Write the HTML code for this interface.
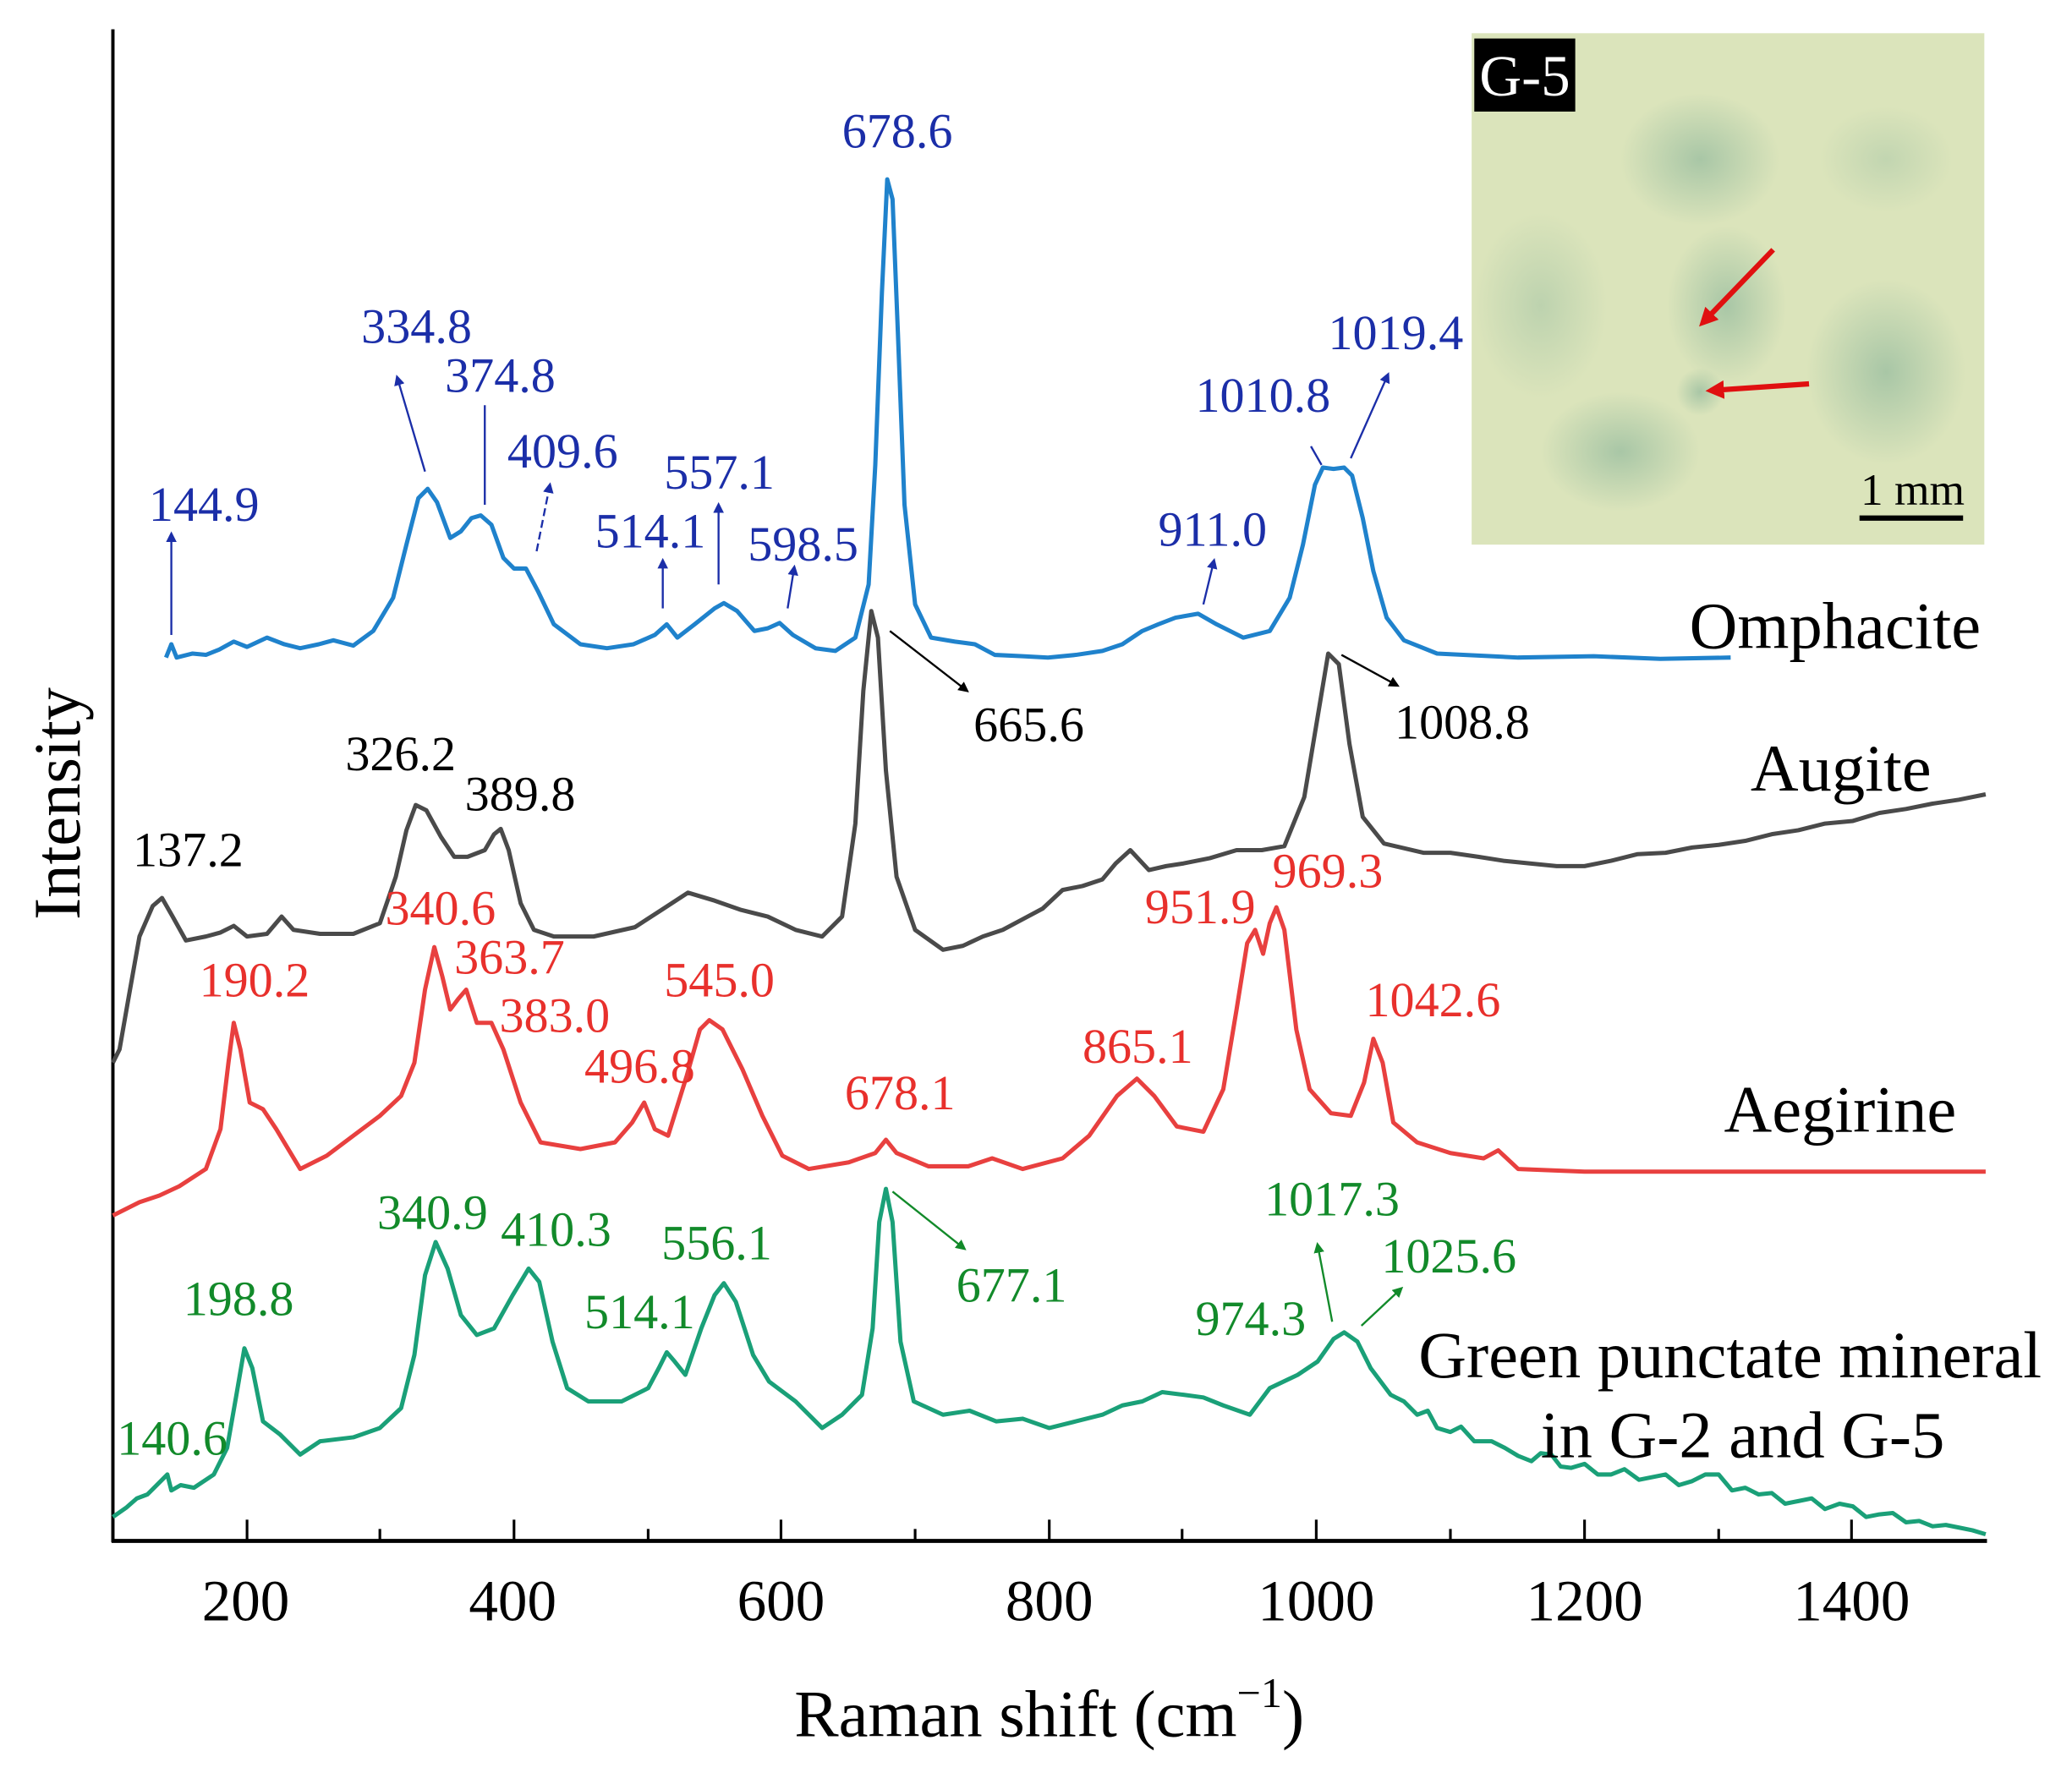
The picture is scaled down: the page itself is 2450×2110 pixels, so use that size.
<!DOCTYPE html>
<html><head><meta charset="utf-8"><style>
html,body{margin:0;padding:0;background:#fff;}
svg{display:block;}
text{font-family:"Liberation Serif",serif;}
</style></head><body>
<svg width="2450" height="2110" viewBox="0 0 1560 1343" preserveAspectRatio="none" xmlns="http://www.w3.org/2000/svg">
<defs>
<radialGradient id="b1"><stop offset="0" stop-color="#7fae95" stop-opacity="0.55"/><stop offset="1" stop-color="#7fae95" stop-opacity="0"/></radialGradient>
<marker id="ab" markerWidth="8" markerHeight="8" refX="6" refY="4" orient="auto" markerUnits="userSpaceOnUse"><path d="M0,0 L8,4 L0,8 z" fill="#1b2ea8"/></marker>
<marker id="ak" markerWidth="8" markerHeight="8" refX="6" refY="4" orient="auto" markerUnits="userSpaceOnUse"><path d="M0,0 L8,4 L0,8 z" fill="#000"/></marker>
<marker id="ag" markerWidth="8" markerHeight="8" refX="6" refY="4" orient="auto" markerUnits="userSpaceOnUse"><path d="M0,0 L8,4 L0,8 z" fill="#128a2a"/></marker>
<marker id="ar" markerWidth="14" markerHeight="14" refX="10" refY="7" orient="auto" markerUnits="userSpaceOnUse"><path d="M0,0 L14,7 L0,14 z" fill="#e01010"/></marker>
</defs>
<rect x="1108" y="25" width="386" height="385" fill="#dbe4bb"/>
<g>
<ellipse cx="1280" cy="120" rx="60" ry="50" fill="url(#b1)"/>
<ellipse cx="1300" cy="230" rx="45" ry="60" fill="url(#b1)"/>
<ellipse cx="1220" cy="340" rx="60" ry="45" fill="url(#b1)"/>
<ellipse cx="1420" cy="280" rx="60" ry="70" fill="url(#b1)"/>
<ellipse cx="1160" cy="230" rx="50" ry="70" fill="url(#b1)" opacity="0.6"/>
<ellipse cx="1420" cy="120" rx="50" ry="40" fill="url(#b1)" opacity="0.5"/>
<ellipse cx="1280" cy="295" rx="18" ry="18" fill="url(#b1)"/>
</g>
<rect x="1110" y="29" width="76" height="55" fill="#000"/>
<text x="1148" y="72" font-size="44" fill="#fff" text-anchor="middle">G-5</text>
<line x1="1335" y1="188" x2="1282" y2="243" stroke="#e01010" stroke-width="4" marker-end="url(#ar)"/>
<line x1="1362" y1="289" x2="1288" y2="294" stroke="#e01010" stroke-width="4" marker-end="url(#ar)"/>
<line x1="1400" y1="390" x2="1478" y2="390" stroke="#000" stroke-width="4"/>
<text x="1440" y="380" font-size="34" text-anchor="middle">1 mm</text>
<line x1="85" y1="22" x2="85" y2="1161" stroke="#000" stroke-width="2.5"/>
<line x1="84" y1="1160" x2="1496" y2="1160" stroke="#000" stroke-width="3"/>
<g stroke="#000" stroke-width="2">
<line x1="186" y1="1160" x2="186" y2="1144"/><line x1="286" y1="1160" x2="286" y2="1151"/>
<line x1="387" y1="1160" x2="387" y2="1144"/><line x1="488" y1="1160" x2="488" y2="1151"/>
<line x1="588" y1="1160" x2="588" y2="1144"/><line x1="689" y1="1160" x2="689" y2="1151"/>
<line x1="790" y1="1160" x2="790" y2="1144"/><line x1="890" y1="1160" x2="890" y2="1151"/>
<line x1="991" y1="1160" x2="991" y2="1144"/><line x1="1092" y1="1160" x2="1092" y2="1151"/>
<line x1="1193" y1="1160" x2="1193" y2="1144"/><line x1="1294" y1="1160" x2="1294" y2="1151"/>
<line x1="1394" y1="1160" x2="1394" y2="1144"/>
</g>
<g font-size="44" text-anchor="middle">
<text x="185" y="1220">200</text><text x="386" y="1220">400</text><text x="588" y="1220">600</text><text x="790" y="1220">800</text><text x="991" y="1220">1000</text><text x="1193" y="1220">1200</text><text x="1394" y="1220">1400</text>
</g>
<text x="790" y="1307" font-size="50" text-anchor="middle">Raman shift (cm<tspan font-size="32" dy="-22">−1</tspan><tspan dy="22">)</tspan></text>
<text transform="translate(60,605) rotate(-90)" font-size="50" text-anchor="middle">Intensity</text>
<g fill="none" stroke-width="3.2" stroke-linejoin="round">
<polyline stroke="#1f82cc" points="125,495 129,485 133,495 145,492 155,493 165,489 176,483 186,487 201,480 214,485 226,488 240,485 251,482 266,486 281,475 296,450 306,410 315,375 322,368 329,378 339,405 347,400 355,390 362,388 370,395 379,420 387,428 396,428 405,445 417,470 437,485 457,488 477,485 493,478 502,470 510,480 523,470 538,458 545,454 555,460 568,475 578,473 587,469 597,478 614,488 629,490 644,480 654,440 659,350 664,220 668,135 672,150 676,250 681,380 689,455 701,480 719,483 734,485 749,493 770,494 789,495 810,493 830,490 845,485 860,475 872,470 885,465 902,462 916,470 936,480 956,475 971,450 981,410 990,365 996,352 1004,353 1012,352 1018,358 1026,390 1034,430 1044,465 1057,482 1082,492 1143,495 1200,494 1250,496 1303,495"/>
<polyline stroke="#4a4a4a" points="85,800 90,790 97,750 105,705 115,682 122,676 130,690 140,708 155,705 166,702 176,697 186,705 201,703 212,690 221,700 241,703 266,703 286,695 298,660 306,625 313,606 321,610 332,630 342,645 352,645 365,640 372,628 377,624 383,640 392,680 402,700 417,705 447,705 478,698 498,685 518,672 538,678 558,685 578,690 599,700 619,705 634,690 644,620 650,520 656,460 661,480 667,580 675,660 689,700 710,715 725,712 740,705 755,700 770,692 785,684 800,670 815,667 830,662 840,650 851,640 865,655 878,652 891,650 911,646 931,640 950,640 967,637 982,600 992,540 1000,492 1008,500 1016,560 1026,615 1042,635 1072,642 1092,642 1113,645 1132,648 1152,650 1172,652 1193,652 1213,648 1233,643 1254,642 1274,638 1294,636 1314,633 1334,628 1354,625 1374,620 1395,618 1415,612 1435,609 1455,605 1475,602 1495,598"/>
<polyline stroke="#e8403f" points="85,915 105,905 120,900 135,893 155,880 166,850 172,800 176,770 181,790 188,830 198,835 208,850 226,880 246,870 266,855 286,840 302,825 312,800 320,745 327,713 333,735 339,760 345,752 351,745 359,770 370,770 379,790 392,830 407,860 437,865 463,860 476,845 485,830 493,850 503,855 517,810 527,775 534,768 544,775 559,805 574,840 589,870 609,880 639,875 659,868 667,858 675,868 699,878 729,878 747,872 770,880 800,872 820,855 841,825 856,812 869,825 886,848 906,852 921,820 931,760 939,710 945,700 951,718 956,695 961,683 967,700 976,775 986,820 1002,838 1017,840 1027,815 1034,782 1041,800 1049,845 1067,860 1092,868 1117,872 1128,866 1143,880 1193,882 1300,882 1400,882 1495,882"/>
<polyline stroke="#1aa078" points="85,1142 95,1135 103,1128 111,1125 121,1115 126,1110 129,1122 136,1118 146,1120 161,1110 171,1090 178,1050 184,1015 190,1030 198,1070 211,1080 226,1095 241,1085 266,1082 286,1075 302,1060 312,1020 320,960 328,935 337,955 347,990 359,1005 372,1000 386,975 398,955 406,965 416,1010 427,1045 443,1055 468,1055 488,1045 496,1030 502,1018 508,1025 516,1035 528,1000 538,975 545,966 554,980 567,1020 579,1040 599,1055 619,1075 634,1065 649,1050 657,1000 662,920 667,895 672,920 678,1010 688,1055 710,1065 730,1062 750,1070 770,1068 790,1075 810,1070 830,1065 845,1058 860,1055 875,1048 891,1050 906,1052 921,1058 941,1065 956,1045 977,1035 992,1025 1004,1008 1012,1003 1022,1010 1032,1030 1047,1050 1057,1055 1067,1065 1075,1062 1082,1075 1092,1078 1100,1074 1110,1085 1123,1085 1133,1090 1143,1096 1153,1100 1160,1094 1168,1095 1175,1104 1183,1105 1193,1102 1203,1110 1213,1110 1223,1106 1234,1114 1244,1112 1254,1110 1264,1118 1274,1115 1284,1110 1294,1110 1304,1122 1314,1120 1324,1125 1334,1124 1344,1132 1354,1130 1364,1128 1374,1136 1385,1132 1395,1134 1405,1142 1415,1140 1425,1139 1435,1146 1445,1145 1455,1149 1465,1148 1475,1150 1485,1152 1495,1155"/>
</g>
<g stroke-width="1.5">
<line x1="129" y1="478" x2="129" y2="402" stroke="#1b2ea8" marker-end="url(#ab)"/>
<line x1="320" y1="355" x2="299" y2="284" stroke="#1b2ea8" marker-end="url(#ab)"/>
<line x1="365" y1="380" x2="365" y2="305" stroke="#1b2ea8"/>
<line x1="404" y1="415" x2="414" y2="365" stroke="#1b2ea8" marker-end="url(#ab)" stroke-dasharray="6,3"/>
<line x1="499" y1="458" x2="499" y2="422" stroke="#1b2ea8" marker-end="url(#ab)"/>
<line x1="541" y1="440" x2="541" y2="380" stroke="#1b2ea8" marker-end="url(#ab)"/>
<line x1="593" y1="458" x2="598" y2="427" stroke="#1b2ea8" marker-end="url(#ab)"/>
<line x1="906" y1="455" x2="914" y2="422" stroke="#1b2ea8" marker-end="url(#ab)"/>
<line x1="995" y1="350" x2="987" y2="336" stroke="#1b2ea8"/>
<line x1="1017" y1="345" x2="1045" y2="282" stroke="#1b2ea8" marker-end="url(#ab)"/>
<line x1="670" y1="475" x2="728" y2="520" stroke="#000" marker-end="url(#ak)"/>
<line x1="1010" y1="493" x2="1052" y2="516" stroke="#000" marker-end="url(#ak)"/>
<line x1="672" y1="897" x2="726" y2="940" stroke="#128a2a" marker-end="url(#ag)"/>
<line x1="1003" y1="995" x2="992" y2="937" stroke="#128a2a" marker-end="url(#ag)"/>
<line x1="1025" y1="998" x2="1055" y2="970" stroke="#128a2a" marker-end="url(#ag)"/>
</g>
<g font-size="37" fill="#1b2ea8">
<text x="112" y="392">144.9</text><text x="272" y="258">334.8</text><text x="335" y="295">374.8</text><text x="382" y="352">409.6</text><text x="448" y="412">514.1</text><text x="500" y="368">557.1</text><text x="563" y="422">598.5</text><text x="634" y="111">678.6</text><text x="872" y="411">911.0</text><text x="900" y="310">1010.8</text><text x="1000" y="263">1019.4</text>
</g>
<g font-size="37" fill="#000">
<text x="733" y="558">665.6</text><text x="1050" y="556">1008.8</text><text x="260" y="580">326.2</text><text x="350" y="610">389.8</text><text x="100" y="652">137.2</text>
</g>
<g font-size="37" fill="#e8302c">
<text x="290" y="696">340.6</text><text x="150" y="750">190.2</text><text x="342" y="733">363.7</text><text x="376" y="777">383.0</text><text x="500" y="750">545.0</text><text x="440" y="815">496.8</text><text x="636" y="835">678.1</text><text x="815" y="800">865.1</text><text x="862" y="695">951.9</text><text x="958" y="668">969.3</text><text x="1028" y="765">1042.6</text>
</g>
<g font-size="37" fill="#128a2a">
<text x="284" y="925">340.9</text><text x="377" y="938">410.3</text><text x="498" y="948">556.1</text><text x="138" y="990">198.8</text><text x="440" y="1000">514.1</text><text x="720" y="980">677.1</text><text x="900" y="1005">974.3</text><text x="952" y="915">1017.3</text><text x="1040" y="958">1025.6</text><text x="88" y="1095">140.6</text>
</g>
<g font-size="50" fill="#000">
<text x="1272" y="488">Omphacite</text><text x="1318" y="595">Augite</text><text x="1298" y="852">Aegirine</text><text x="1068" y="1037">Green punctate mineral</text><text x="1160" y="1097">in G-2 and G-5</text>
</g>
</svg>
</body></html>
